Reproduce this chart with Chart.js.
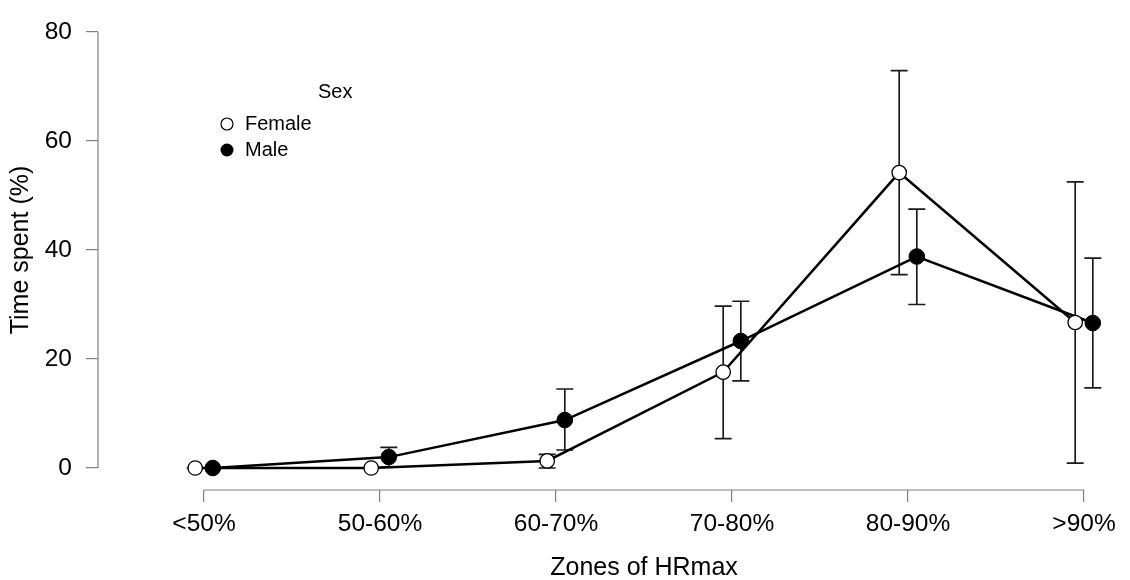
<!DOCTYPE html>
<html>
<head>
<meta charset="utf-8">
<script src="https://cdn.jsdelivr.net/npm/chart.js@4.4.1/dist/chart.umd.min.js"></script>
<style>
html,body{margin:0;padding:0;background:#fff;}
#wrap{width:1130px;height:580px;}
</style>
</head>
<body>
<div id="wrap"><canvas id="c" width="1130" height="580"></canvas></div>
<script>
const zones = ['<50%', '50-60%', '60-70%', '70-80%', '80-90%', '>90%'];
const yTicks = [0, 20, 40, 60, 80];
const femaleMean  = [0, 0, 1.3, 17.6, 54.2, 26.7];
const femaleLower = [0, 0, 0, 5.4, 35.5, 0.9];
const femaleUpper = [0, 0, 2.5, 29.7, 72.9, 52.5];
const maleMean  = [0, 2.0, 8.8, 23.3, 38.8, 26.6];
const maleLower = [0, 0.2, 3.3, 16.0, 30.0, 14.7];
const maleUpper = [0, 3.8, 14.5, 30.6, 47.5, 38.5];
const xTitle = 'Zones of HRmax';
const yTitle = 'Time spent (%)';

const DODGE = 0.05;
const FONT = "'Liberation Sans', Arial, Helvetica, sans-serif";

function pts(means, off) { return means.map((v, i) => ({x: i + off, y: v})); }

const errorBars = {
  id: 'errorBars',
  beforeDatasetsDraw(chart) {
    const ctx = chart.ctx, xs = chart.scales.x, ys = chart.scales.y;
    const groups = [[femaleLower, femaleUpper, -DODGE], [maleLower, maleUpper, DODGE]];
    ctx.save();
    ctx.strokeStyle = '#1a1a1a';
    ctx.lineWidth = 1.7;
    groups.forEach(([lo, hi, off]) => {
      lo.forEach((l, i) => {
        const x = xs.getPixelForValue(i + off);
        const y1 = ys.getPixelForValue(l), y2 = ys.getPixelForValue(hi[i]);
        ctx.beginPath();
        ctx.moveTo(x, y1); ctx.lineTo(x, y2);
        ctx.moveTo(x - 8.5, y1); ctx.lineTo(x + 8.5, y1);
        ctx.moveTo(x - 8.5, y2); ctx.lineTo(x + 8.5, y2);
        ctx.stroke();
      });
    });
    ctx.restore();
  }
};

const axesAndLegend = {
  id: 'axesAndLegend',
  afterDraw(chart) {
    const ctx = chart.ctx, xs = chart.scales.x, ys = chart.scales.y;
    ctx.save();
    ctx.strokeStyle = '#808080';
    ctx.lineWidth = 1.2;
    const yx = chart.chartArea.left;
    const yTop = ys.getPixelForValue(yTicks[yTicks.length - 1]);
    const yBot = ys.getPixelForValue(yTicks[0]);
    ctx.beginPath();
    ctx.moveTo(yx, yBot);
    ctx.lineTo(yx, yTop);
    ctx.stroke();
    const xy = chart.chartArea.bottom;
    const xL = xs.getPixelForValue(0), xR = xs.getPixelForValue(zones.length - 1);
    ctx.beginPath();
    ctx.moveTo(xL, xy);
    ctx.lineTo(xR, xy);
    ctx.stroke();
    // axis titles, centred on the axis ranges
    ctx.fillStyle = '#000';
    ctx.font = '25px ' + FONT;
    ctx.textAlign = 'center';
    ctx.textBaseline = 'middle';
    ctx.fillText(xTitle, (xL + xR) / 2, 568);
    ctx.save();
    ctx.translate(21, (yTop + yBot) / 2);
    ctx.rotate(-Math.PI / 2);
    ctx.fillText(yTitle, 0, 0);
    ctx.restore();
    // legend
    ctx.font = '20px ' + FONT;
    ctx.textAlign = 'left';
    ctx.fillText('Sex', 318, 92);
    ctx.fillText('Female', 245, 124);
    ctx.fillText('Male', 245, 150);
    ctx.beginPath();
    ctx.arc(227, 124, 6, 0, Math.PI * 2);
    ctx.fillStyle = '#fff'; ctx.fill();
    ctx.strokeStyle = '#000'; ctx.lineWidth = 1.2; ctx.stroke();
    ctx.beginPath();
    ctx.arc(227, 150, 6.5, 0, Math.PI * 2);
    ctx.fillStyle = '#000'; ctx.fill();
    ctx.restore();
  }
};

new Chart(document.getElementById('c'), {
  type: 'line',
  data: {
    datasets: [
      {
        label: 'Female',
        data: pts(femaleMean, -DODGE),
        borderColor: '#000',
        borderWidth: 2.5,
        pointRadius: 7.2,
        pointBackgroundColor: '#fff',
        pointBorderColor: '#000',
        pointBorderWidth: 1.3,
        tension: 0,
        clip: false
      },
      {
        label: 'Male',
        data: pts(maleMean, DODGE),
        borderColor: '#000',
        borderWidth: 2.5,
        pointRadius: 7.8,
        pointBackgroundColor: '#000',
        pointBorderColor: '#000',
        pointBorderWidth: 1,
        tension: 0,
        clip: false
      }
    ]
  },
  options: {
    responsive: false,
    animation: false,
    events: [],
    layout: {padding: {top: 32, right: 10, left: 0, bottom: 0}},
    plugins: {legend: {display: false}, tooltip: {enabled: false}},
    scales: {
      x: {
        type: 'linear',
        min: -106 / 176,
        max: 5 + 36 / 176,
        afterBuildTicks(s) { s.ticks = zones.map((z, i) => ({value: i})); },
        afterFit(s) { s.height = 90; },
        border: {display: false},
        grid: {drawOnChartArea: false, drawTicks: true, tickLength: 12, color: '#808080', lineWidth: 1.2},
        ticks: {
          autoSkip: false, maxRotation: 0, padding: 8, color: '#000',
          font: {family: FONT, size: 24.5},
          callback: (v) => zones[v]
        },
        title: {display: false}
      },
      y: {
        type: 'linear',
        min: -22 / (436 / 80),
        max: 80,
        afterBuildTicks(s) { s.ticks = yTicks.map(v => ({value: v})); },
        afterFit(s) { s.width = 98; },
        border: {display: false},
        grid: {drawOnChartArea: false, drawTicks: true, tickLength: 12, color: '#808080', lineWidth: 1.2},
        ticks: {
          autoSkip: false, padding: 14, color: '#000',
          font: {family: FONT, size: 24.5}
        },
        title: {display: false}
      }
    }
  },
  plugins: [errorBars, axesAndLegend]
});
</script>
</body>
</html>
